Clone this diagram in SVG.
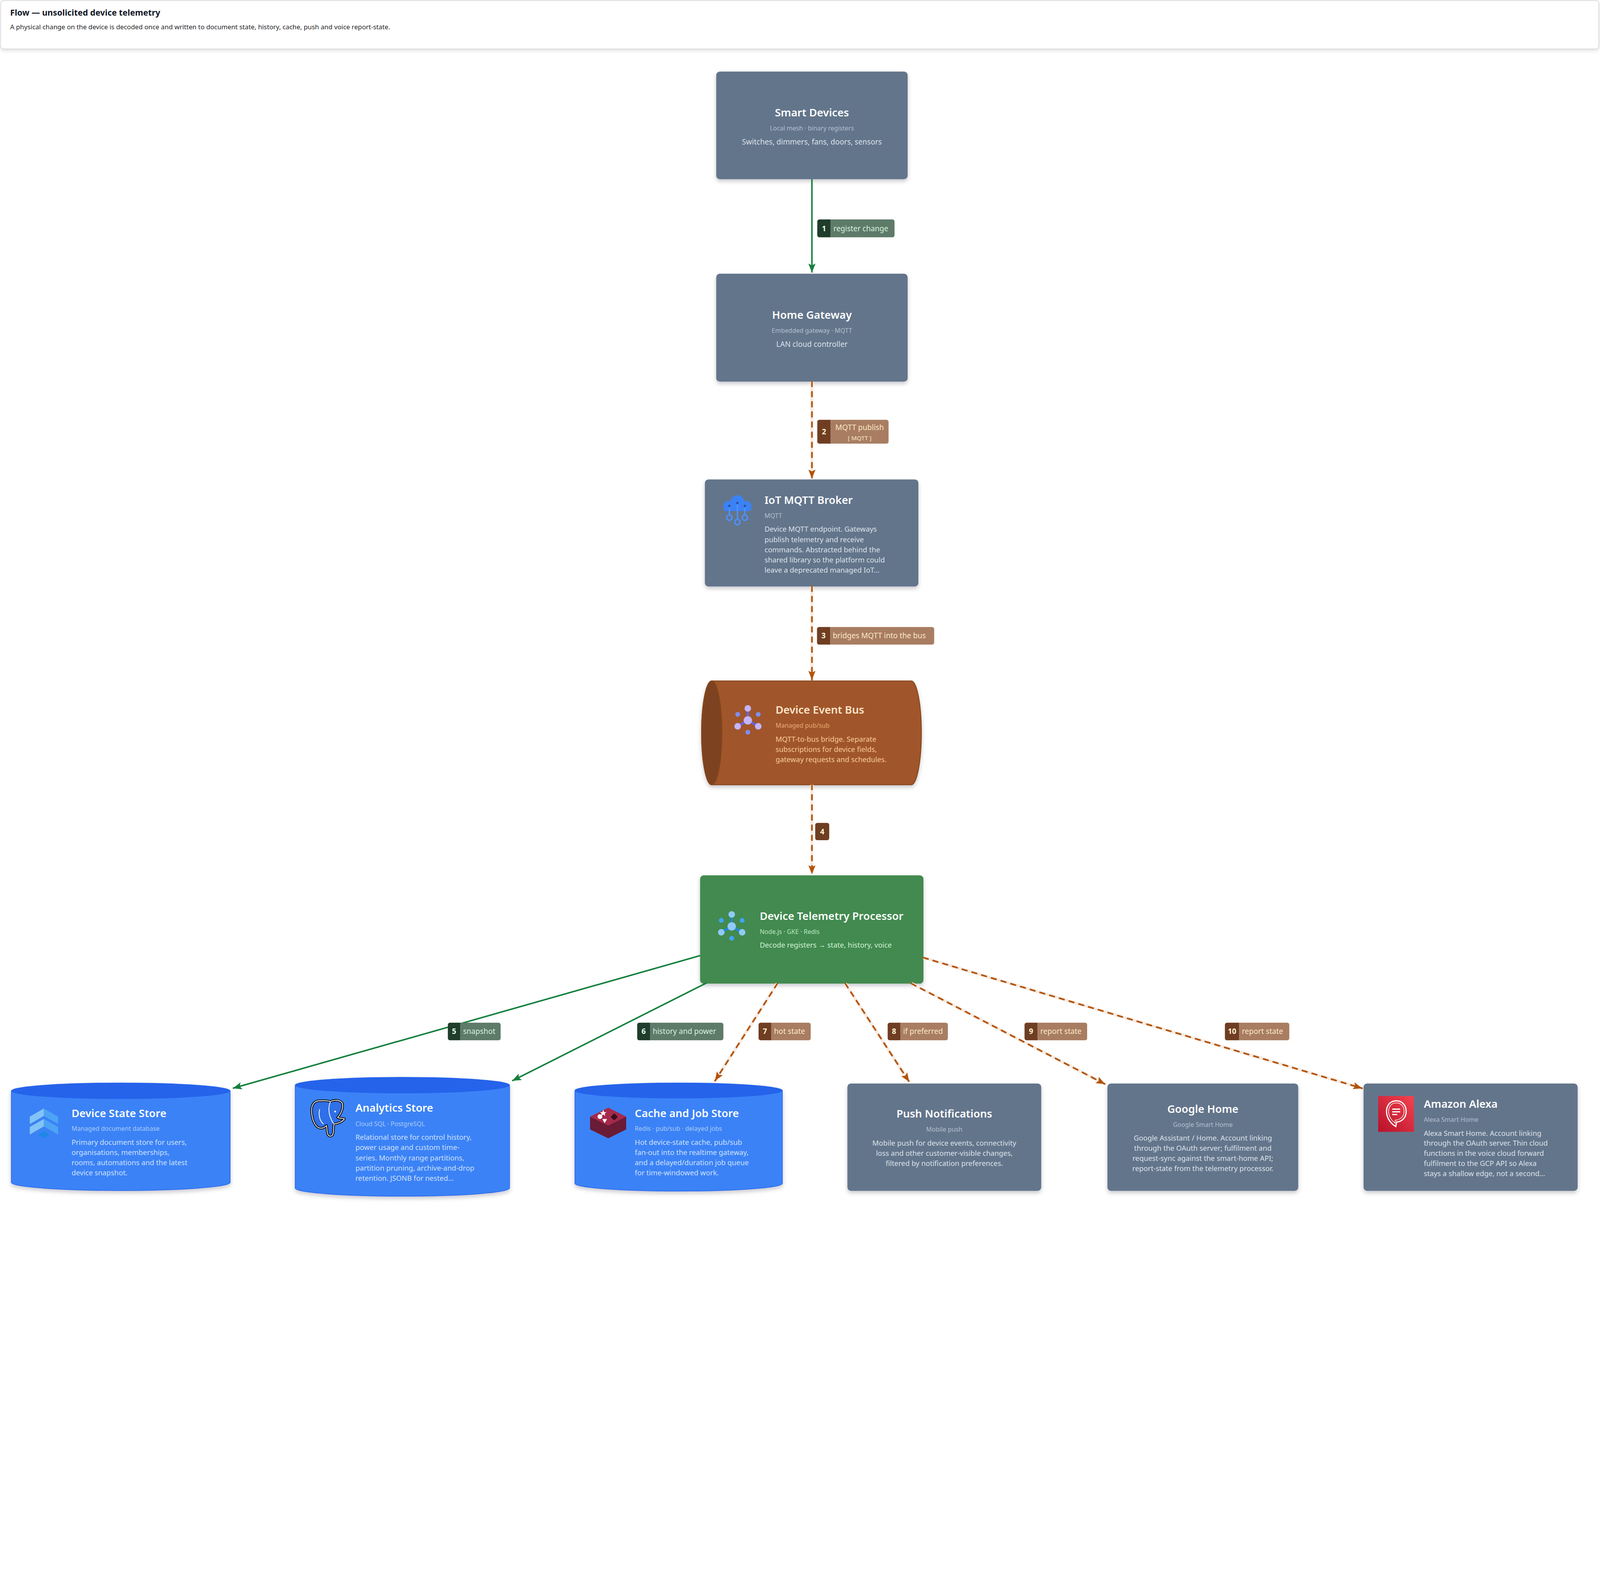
<svg xmlns="http://www.w3.org/2000/svg" width="5366" height="4086" viewBox="0 0 5366 4086" preserveAspectRatio="xMidYMin meet">
<style>
svg{width:100%;height:100%}
text{font-family:"Noto Sans","Liberation Sans",sans-serif}
.hT{font-size:28px;font-weight:700;fill:#111827}
.hS{font-size:22px;fill:#27272a}
.ti{font-size:36px;font-weight:600}
.su{font-size:21px}
.de{font-size:24px}
.de1{font-size:25px}
.c{text-anchor:middle}
.gT{fill:#ffffff}.gS{fill:#b3bfcf}.gD{fill:#dbe2ea}
.bT{fill:#ffffff}.bS{fill:#abcaf8}.bD{fill:#cfe1fc}
.oT{fill:#fde6cc}.oS{fill:#eaa978}.oD{fill:#f9c99b}
.pT{fill:#ffffff}.pS{fill:#bce6c3}.pD{fill:#d3f3d8}
.gray{fill:#64748b}
.lt{font-size:25px}
.ln{font-size:25px;font-weight:700;text-anchor:middle}
.gl{fill:#5e7a69}.gd{fill:#1f3d2a}.glt{fill:#d4f3dd}.gnt{fill:#e8f8ec}
.bl{fill:#a87d62}.bd{fill:#6f3e22}.blt{fill:#fde8c6}.bnt{fill:#fff2d9}
.halo{stroke:#f6ece4;stroke-width:11;fill:none}
.dash{stroke:#b45309;stroke-width:5.5;fill:none;stroke-dasharray:16 18;stroke-linecap:round;marker-end:url(#ahO)}
.solid{stroke:#15803d;stroke-width:5;fill:none;marker-end:url(#ahG)}
</style>
<defs>
<marker id="ahG" viewBox="0 0 30 24" refX="30" refY="12" markerWidth="30" markerHeight="24" orient="auto" markerUnits="userSpaceOnUse"><path d="M0,0 L30,12 L0,24 L6,12 Z" fill="#15803d"/></marker>
<marker id="ahO" viewBox="0 0 30 24" refX="30" refY="12" markerWidth="30" markerHeight="24" orient="auto" markerUnits="userSpaceOnUse"><path d="M0,0 L30,12 L0,24 L6,12 Z" fill="#b45309"/></marker>
<filter id="sh" x="-10%" y="-10%" width="120%" height="135%"><feDropShadow dx="0" dy="7" stdDeviation="7" flood-color="#0f172a" flood-opacity="0.22"/></filter>
<filter id="shH" x="-2%" y="-20%" width="104%" height="150%"><feDropShadow dx="0" dy="5" stdDeviation="6" flood-color="#000000" flood-opacity="0.12"/></filter>
<linearGradient id="alexaG" x1="0" y1="1" x2="1" y2="0"><stop offset="0" stop-color="#b8102a"/><stop offset="1" stop-color="#f2434f"/></linearGradient>
</defs>
<rect x="0" y="0" width="5366" height="4086" fill="#ffffff"/>

<g id="header">
<rect x="2" y="2" width="5360" height="162" rx="10" fill="#ffffff" stroke="#d4d4dc" stroke-width="2" filter="url(#shH)"/>
<text x="34" y="52" class="hT">Flow — unsolicited device telemetry</text>
<text x="34" y="98" class="hS">A physical change on the device is decoded once and written to document state, history, cache, push and voice report-state.</text>
</g>

<g id="smart-devices">
<rect x="2402" y="240" width="642" height="361" rx="12" class="gray" filter="url(#sh)"/>
<text x="2723" y="391" class="ti c gT">Smart Devices</text>
<text x="2723" y="438" class="su c gS">Local mesh · binary registers</text>
<text x="2723" y="485" class="de1 c gD">Switches, dimmers, fans, doors, sensors</text>
</g>

<g id="home-gateway">
<rect x="2402" y="918" width="642" height="362" rx="12" class="gray" filter="url(#sh)"/>
<text x="2723" y="1069" class="ti c gT">Home Gateway</text>
<text x="2723" y="1116" class="su c gS">Embedded gateway · MQTT</text>
<text x="2723" y="1163" class="de1 c gD">LAN cloud controller</text>
</g>

<g id="iot-mqtt-broker">
<rect x="2364" y="1608" width="716" height="359" rx="12" class="gray" filter="url(#sh)"/>
<g id="icon-cloud">
<circle cx="2473" cy="1684" r="23" fill="#3b82f6"/>
<circle cx="2443" cy="1697" r="17" fill="#3b82f6"/>
<circle cx="2503" cy="1697" r="17" fill="#3b82f6"/>
<rect x="2426" y="1694" width="94" height="20" rx="9" fill="#3b82f6"/>
<g stroke="#4f8ff7" stroke-width="5" fill="none">
<line x1="2446" y1="1697" x2="2446" y2="1727"/>
<line x1="2473" y1="1687" x2="2473" y2="1742"/>
<line x1="2498" y1="1697" x2="2498" y2="1727"/>
<circle cx="2446" cy="1736" r="9"/>
<circle cx="2473" cy="1751" r="9"/>
<circle cx="2498" cy="1736" r="9"/>
</g>
<circle cx="2446" cy="1697" r="4" fill="#2a4f9a"/>
<circle cx="2473" cy="1687" r="4" fill="#2a4f9a"/>
<circle cx="2498" cy="1697" r="4" fill="#2a4f9a"/>
</g>
<text x="2564" y="1690" class="ti gT">IoT MQTT Broker</text>
<text x="2564" y="1737" class="su gS">MQTT</text>
<text class="de gD"><tspan x="2564" y="1783">Device MQTT endpoint. Gateways</tspan><tspan x="2564" y="1818">publish telemetry and receive</tspan><tspan x="2564" y="1852">commands. Abstracted behind the</tspan><tspan x="2564" y="1886">shared library so the platform could</tspan><tspan x="2564" y="1920">leave a deprecated managed IoT…</tspan></text>
</g>

<g id="device-event-bus">
<path d="M2387,2284 H3056 A34 174 0 0 1 3056,2632 H2387 A34 174 0 0 1 2387,2284 Z" fill="#a0572a" stroke="#87441a" stroke-width="3" filter="url(#sh)"/>
<ellipse cx="2387" cy="2458" rx="34" ry="174" fill="#7d4320" stroke="#87441a" stroke-width="3"/>
<g id="icon-bus">
<g stroke="#6366f1" stroke-width="7"><line x1="2508" y1="2376" x2="2508" y2="2416"/><line x1="2508" y1="2416" x2="2474" y2="2436"/><line x1="2508" y1="2416" x2="2543" y2="2436"/></g>
<circle cx="2508" cy="2376" r="11" fill="#c4b5fd"/>
<circle cx="2474" cy="2396" r="8" fill="#818cf8"/>
<circle cx="2543" cy="2396" r="8" fill="#818cf8"/>
<circle cx="2508" cy="2416" r="14" fill="#c4b5fd"/>
<circle cx="2474" cy="2436" r="11" fill="#c4b5fd"/>
<circle cx="2543" cy="2436" r="11" fill="#c4b5fd"/>
<circle cx="2508" cy="2456" r="8" fill="#818cf8"/>
</g>
<text x="2601" y="2394" class="ti oT">Device Event Bus</text>
<text x="2601" y="2440" class="su oS">Managed pub/sub</text>
<text class="de oD"><tspan x="2601" y="2488">MQTT-to-bus bridge. Separate</tspan><tspan x="2601" y="2522">subscriptions for device fields,</tspan><tspan x="2601" y="2556">gateway requests and schedules.</tspan></text>
</g>

<g id="device-telemetry-processor">
<rect x="2348" y="2936" width="749" height="363" rx="12" fill="#438a50" filter="url(#sh)"/>
<g id="icon-proc">
<g stroke="#1e88e5" stroke-width="7"><line x1="2454" y1="3067" x2="2454" y2="3107"/><line x1="2454" y1="3107" x2="2419" y2="3127"/><line x1="2454" y1="3107" x2="2489" y2="3127"/></g>
<circle cx="2454" cy="3067" r="11" fill="#90caf9"/>
<circle cx="2419" cy="3087" r="8" fill="#42a5f5"/>
<circle cx="2489" cy="3087" r="8" fill="#42a5f5"/>
<circle cx="2454" cy="3107" r="14" fill="#90caf9"/>
<circle cx="2419" cy="3127" r="11" fill="#90caf9"/>
<circle cx="2489" cy="3127" r="11" fill="#90caf9"/>
<circle cx="2454" cy="3147" r="8" fill="#42a5f5"/>
</g>
<text x="2548" y="3085" class="ti pT">Device Telemetry Processor</text>
<text x="2548" y="3132" class="su pS">Node.js · GKE · Redis</text>
<text x="2548" y="3178" class="de pD">Decode registers → state, history, voice</text>
</g>

<g id="device-state-store">
<path d="M38,3659 V3966 A367 27 0 0 0 772,3966 V3659 A367 27 0 0 0 38,3659 Z" fill="#3b82f6" stroke="#2563eb" stroke-width="2" filter="url(#sh)"/>
<ellipse cx="405" cy="3659" rx="367" ry="27" fill="#2563eb"/>
<g id="icon-firestore">
<polygon points="100,3745 147,3718 147,3743 100,3770" fill="#82c4f8"/>
<polygon points="147,3718 195,3745 195,3770 147,3743" fill="#4da3f4"/>
<polygon points="100,3780 147,3753 147,3778 100,3805" fill="#82c4f8"/>
<polygon points="147,3753 195,3780 195,3805 147,3778" fill="#4da3f4"/>
<polygon points="147,3794 166,3806 147,3818 128,3806" fill="#1e88e5"/>
</g>
<text x="240" y="3747" class="ti bT">Device State Store</text>
<text x="240" y="3793" class="su bS">Managed document database</text>
<text class="de bD"><tspan x="240" y="3840">Primary document store for users,</tspan><tspan x="240" y="3874">organisations, memberships,</tspan><tspan x="240" y="3908">rooms, automations and the latest</tspan><tspan x="240" y="3942">device snapshot.</tspan></text>
</g>

<g id="analytics-store">
<path d="M990,3640 V3985 A359.5 27 0 0 0 1709,3985 V3640 A359.5 27 0 0 0 990,3640 Z" fill="#3b82f6" stroke="#2563eb" stroke-width="2" filter="url(#sh)"/>
<ellipse cx="1349.5" cy="3640" rx="359.5" ry="27" fill="#2563eb"/>
<g id="icon-postgres">
<path d="M1075,3692 C1055,3690 1043,3705 1045,3730 C1047,3755 1055,3775 1068,3782 C1078,3787 1088,3782 1095,3775 L1098,3800 C1100,3812 1112,3814 1116,3805 C1120,3795 1118,3785 1120,3770 C1135,3768 1150,3762 1155,3752 C1150,3750 1140,3752 1132,3748 C1145,3735 1152,3715 1148,3700 C1140,3688 1120,3688 1108,3695 C1098,3690 1085,3692 1075,3692 Z" fill="#2f6fe8" stroke="#0b0b0b" stroke-width="8" stroke-linejoin="round"/>
<path d="M1075,3692 C1055,3690 1043,3705 1045,3730 C1047,3755 1055,3775 1068,3782 C1078,3787 1088,3782 1095,3775 L1098,3800 C1100,3812 1112,3814 1116,3805 C1120,3795 1118,3785 1120,3770 C1135,3768 1150,3762 1155,3752 C1150,3750 1140,3752 1132,3748 C1145,3735 1152,3715 1148,3700 C1140,3688 1120,3688 1108,3695 C1098,3690 1085,3692 1075,3692 Z" fill="none" stroke="#ffffff" stroke-width="2.5" stroke-linejoin="round"/>
<path d="M1108,3695 C1098,3720 1104,3748 1120,3770" fill="none" stroke="#ffffff" stroke-width="2.5"/>
<path d="M1072,3720 C1068,3740 1072,3760 1085,3770" fill="none" stroke="#ffffff" stroke-width="2.5"/>
<circle cx="1124" cy="3728" r="3" fill="#ffffff"/>
</g>
<text x="1192" y="3728" class="ti bT">Analytics Store</text>
<text x="1192" y="3777" class="su bS">Cloud SQL · PostgreSQL</text>
<text class="de bD"><tspan x="1192" y="3823">Relational store for control history,</tspan><tspan x="1192" y="3857">power usage and custom time-</tspan><tspan x="1192" y="3892">series. Monthly range partitions,</tspan><tspan x="1192" y="3926">partition pruning, archive-and-drop</tspan><tspan x="1192" y="3960">retention. JSONB for nested…</tspan></text>
</g>

<g id="cache-job-store">
<path d="M1928,3658 V3969 A348 26 0 0 0 2624,3969 V3658 A348 26 0 0 0 1928,3658 Z" fill="#3b82f6" stroke="#2563eb" stroke-width="2" filter="url(#sh)"/>
<ellipse cx="2276" cy="3658" rx="348" ry="26" fill="#2563eb"/>
<g id="icon-redis">
<polygon points="1979,3773 2040,3803 2100,3773 2100,3788 2040,3818 1979,3788" fill="#6a1b36"/>
<polygon points="2040,3743 2100,3773 2040,3803 1979,3773" fill="#b02a52"/>
<polygon points="1979,3759 2040,3789 2100,3759 2100,3774 2040,3804 1979,3774" fill="#6a1b36"/>
<polygon points="2040,3729 2100,3759 2040,3789 1979,3759" fill="#b02a52"/>
<polygon points="1979,3745 2040,3775 2100,3745 2100,3760 2040,3790 1979,3760" fill="#6a1b36"/>
<polygon points="2040,3715 2100,3745 2040,3775 1979,3745" fill="#a52a4c"/>
<polygon points="2023,3722 2026,3730 2034,3730 2028,3735 2030,3743 2023,3738 2016,3743 2018,3735 2012,3730 2020,3730" fill="#ffffff"/>
<circle cx="2012" cy="3745" r="8" fill="#ffffff"/>
<polygon points="2020,3753 2036,3753 2028,3767" fill="#ffffff"/>
<polygon points="2060,3734 2072,3746 2060,3758 2048,3746" fill="#3a0d1c"/>
</g>
<text x="2129" y="3747" class="ti bT">Cache and Job Store</text>
<text x="2129" y="3793" class="su bS">Redis · pub/sub · delayed jobs</text>
<text class="de bD"><tspan x="2129" y="3840">Hot device-state cache, pub/sub</tspan><tspan x="2129" y="3874">fan-out into the realtime gateway,</tspan><tspan x="2129" y="3908">and a delayed/duration job queue</tspan><tspan x="2129" y="3942">for time-windowed work.</tspan></text>
</g>

<g id="push-notifications">
<rect x="2842" y="3634" width="650" height="360" rx="12" class="gray" filter="url(#sh)"/>
<text x="3167" y="3748" class="ti c gT">Push Notifications</text>
<text x="3167" y="3795" class="su c gS">Mobile push</text>
<text class="de c gD"><tspan x="3167" y="3842">Mobile push for device events, connectivity</tspan><tspan x="3167" y="3876">loss and other customer-visible changes,</tspan><tspan x="3167" y="3910">filtered by notification preferences.</tspan></text>
</g>

<g id="google-home">
<rect x="3714" y="3634" width="640" height="360" rx="12" class="gray" filter="url(#sh)"/>
<text x="4034" y="3733" class="ti c gT">Google Home</text>
<text x="4034" y="3779" class="su c gS">Google Smart Home</text>
<text class="de c gD"><tspan x="4034" y="3825">Google Assistant / Home. Account linking</tspan><tspan x="4034" y="3859">through the OAuth server; fulfilment and</tspan><tspan x="4034" y="3893">request-sync against the smart-home API;</tspan><tspan x="4034" y="3927">report-state from the telemetry processor.</tspan></text>
</g>

<g id="amazon-alexa">
<rect x="4573" y="3634" width="718" height="360" rx="12" class="gray" filter="url(#sh)"/>
<g id="icon-alexa">
<rect x="4622" y="3676" width="120" height="120" fill="url(#alexaG)"/>
<path d="M4683,3692 C4706,3692 4716,3711 4716,3728 C4716,3748 4701,3763 4684,3763 L4681,3778 C4668,3771 4650,3752 4650,3728 C4650,3709 4661,3692 4683,3692 Z" fill="none" stroke="#ffffff" stroke-width="4"/>
<path d="M4683,3699 C4701,3699 4709,3714 4709,3728 C4709,3744 4697,3756 4679,3757 L4679,3767 C4668,3759 4657,3745 4657,3728 C4657,3713 4666,3699 4683,3699 Z" fill="none" stroke="#ffffff" stroke-width="2"/>
<g stroke="#ffffff" stroke-width="4"><line x1="4669" y1="3720" x2="4696" y2="3720"/><line x1="4669" y1="3729" x2="4696" y2="3729"/><line x1="4669" y1="3738" x2="4686" y2="3738"/></g>
</g>
<text x="4775" y="3715" class="ti gT">Amazon Alexa</text>
<text x="4775" y="3762" class="su gS">Alexa Smart Home</text>
<text class="de gD"><tspan x="4775" y="3809">Alexa Smart Home. Account linking</tspan><tspan x="4775" y="3843">through the OAuth server. Thin cloud</tspan><tspan x="4775" y="3877">functions in the voice cloud forward</tspan><tspan x="4775" y="3911">fulfilment to the GCP API so Alexa</tspan><tspan x="4775" y="3945">stays a shallow edge, not a second…</tspan></text>
</g>

<g id="connectors">
<path d="M2723,601 L2723,914" class="solid"/>
<path d="M2723,1280 L2723,1605" class="halo"/>
<path d="M2723,1280 L2723,1605" class="dash"/>
<path d="M2723,1967 L2723,2280" class="halo"/>
<path d="M2723,1967 L2723,2280" class="dash"/>
<path d="M2723,2632 L2723,2932" class="halo"/>
<path d="M2723,2632 L2723,2932" class="dash"/>
<path d="M2348,3205 L781,3650" class="solid"/>
<path d="M2369,3297 L1718,3625" class="solid"/>
<path d="M2607,3299 L2398,3625" class="halo"/>
<path d="M2607,3299 L2398,3625" class="dash"/>
<path d="M2835,3299 L3049,3628" class="halo"/>
<path d="M2835,3299 L3049,3628" class="dash"/>
<path d="M3057,3299 L3706,3636" class="halo"/>
<path d="M3057,3299 L3706,3636" class="dash"/>
<path d="M3097,3212 L4568,3650" class="halo"/>
<path d="M3097,3212 L4568,3650" class="dash"/>

<g id="label-1">
<path d="M2748,736 H2786 V796 H2748 A7 7 0 0 1 2741,789 V743 A7 7 0 0 1 2748,736 Z" class="gd"/>
<path d="M2786,736 H2993 A7 7 0 0 1 3000,743 V789 A7 7 0 0 1 2993,796 H2786 Z" class="gl"/>
<text x="2763.5" y="775" class="ln gnt">1</text>
<text x="2795" y="775" class="lt glt">register change</text>
</g>
<g id="label-2">
<path d="M2748,1408 H2786 V1488 H2748 A7 7 0 0 1 2741,1481 V1415 A7 7 0 0 1 2748,1408 Z" class="bd"/>
<path d="M2786,1408 H2973 A7 7 0 0 1 2980,1415 V1481 A7 7 0 0 1 2973,1488 H2786 Z" class="bl"/>
<text x="2763.5" y="1457" class="ln bnt">2</text>
<text x="2883" y="1443" class="lt blt c">MQTT publish</text>
<text x="2883" y="1476" class="blt c" font-size="20">[ MQTT ]</text>
</g>
<g id="label-3">
<path d="M2747,2103 H2784 V2162 H2747 A7 7 0 0 1 2740,2155 V2110 A7 7 0 0 1 2747,2103 Z" class="bd"/>
<path d="M2784,2103 H3126 A7 7 0 0 1 3133,2110 V2155 A7 7 0 0 1 3126,2162 H2784 Z" class="bl"/>
<text x="2762" y="2141" class="ln bnt">3</text>
<text x="2793" y="2141" class="lt blt">bridges MQTT into the bus</text>
</g>
<g id="label-4">
<rect x="2734" y="2760" width="47" height="58" rx="7" class="bd"/>
<text x="2757.5" y="2798" class="ln bnt">4</text>
</g>
<g id="label-5">
<path d="M1509,3430 H1544 V3489 H1509 A7 7 0 0 1 1502,3482 V3437 A7 7 0 0 1 1509,3430 Z" class="gd"/>
<path d="M1544,3430 H1672 A7 7 0 0 1 1679,3437 V3482 A7 7 0 0 1 1672,3489 H1544 Z" class="gl"/>
<text x="1523" y="3468" class="ln gnt">5</text>
<text x="1553" y="3468" class="lt glt">snapshot</text>
</g>
<g id="label-6">
<path d="M2144,3430 H2180 V3489 H2144 A7 7 0 0 1 2137,3482 V3437 A7 7 0 0 1 2144,3430 Z" class="gd"/>
<path d="M2180,3430 H2419 A7 7 0 0 1 2426,3437 V3482 A7 7 0 0 1 2419,3489 H2180 Z" class="gl"/>
<text x="2158.5" y="3468" class="ln gnt">6</text>
<text x="2189" y="3468" class="lt glt">history and power</text>
</g>
<g id="label-7">
<path d="M2551,3430 H2587 V3489 H2551 A7 7 0 0 1 2544,3482 V3437 A7 7 0 0 1 2551,3430 Z" class="bd"/>
<path d="M2587,3430 H2712 A7 7 0 0 1 2719,3437 V3482 A7 7 0 0 1 2712,3489 H2587 Z" class="bl"/>
<text x="2565.5" y="3468" class="ln bnt">7</text>
<text x="2596" y="3468" class="lt blt">hot state</text>
</g>
<g id="label-8">
<path d="M2984,3430 H3020 V3489 H2984 A7 7 0 0 1 2977,3482 V3437 A7 7 0 0 1 2984,3430 Z" class="bd"/>
<path d="M3020,3430 H3172 A7 7 0 0 1 3179,3437 V3482 A7 7 0 0 1 3172,3489 H3020 Z" class="bl"/>
<text x="2998.5" y="3468" class="ln bnt">8</text>
<text x="3029" y="3468" class="lt blt">if preferred</text>
</g>
<g id="label-9">
<path d="M3443,3430 H3480 V3489 H3443 A7 7 0 0 1 3436,3482 V3437 A7 7 0 0 1 3443,3430 Z" class="bd"/>
<path d="M3480,3430 H3639 A7 7 0 0 1 3646,3437 V3482 A7 7 0 0 1 3639,3489 H3480 Z" class="bl"/>
<text x="3458" y="3468" class="ln bnt">9</text>
<text x="3489" y="3468" class="lt blt">report state</text>
</g>
<g id="label-10">
<path d="M4115,3430 H4156 V3489 H4115 A7 7 0 0 1 4108,3482 V3437 A7 7 0 0 1 4115,3430 Z" class="bd"/>
<path d="M4156,3430 H4317 A7 7 0 0 1 4324,3437 V3482 A7 7 0 0 1 4317,3489 H4156 Z" class="bl"/>
<text x="4132" y="3468" class="ln bnt">10</text>
<text x="4165" y="3468" class="lt blt">report state</text>
</g>
</g>
</svg>
